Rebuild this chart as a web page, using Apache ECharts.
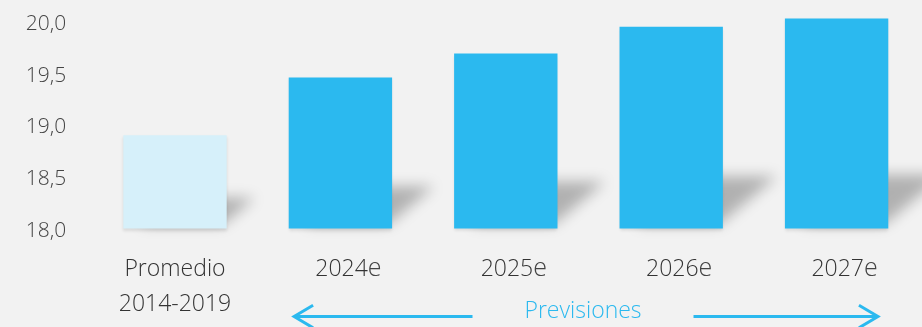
<!DOCTYPE html>
<html>
<head>
<meta charset="utf-8">
<script src="https://cdn.jsdelivr.net/npm/echarts@6/dist/echarts.min.js"></script>
<style>
  html, body { margin: 0; padding: 0; background: #f2f2f2; }
  #chart { width: 922px; height: 327px; }
</style>
</head>
<body>
<div id="chart"></div>
<script>
// Chart data
const categories = ['Promedio\n2014-2019', '2024e', '2025e', '2026e', '2027e'];
const values = [18.90, 19.46, 19.69, 19.95, 20.03];
const yTicks = [18, 18.5, 19, 19.5, 20];
const yTickLabels = ['18,0', '18,5', '19,0', '19,5', '20,0'];
const forecastLabel = 'Previsiones';

// Styling
const Y_MIN = 18, Y_MAX = 20.1;
const BLUE = '#2bb9ef';
const PALE = '#d6f0fa';
const FONT = '"Open Sans", "Noto Sans", sans-serif';
const WEIGHT = 300;
const BAR_RATIO = 0.625;

const chart = echarts.init(document.getElementById('chart'), null, { renderer: 'canvas' });

// Soft floor shadow cast up and to the right of each bar.
// The solid shape sits off-canvas; only its blurred shadow lands beside the bar.
function floorShadow(params, api) {
  const idx = api.value(0);
  const top = api.coord([idx, api.value(1)]);
  const base = api.coord([idx, Y_MIN]);
  const half = api.size([1, 0])[0] * BAR_RATIO / 2;
  const h = base[1] - top[1];
  const dy = h * 0.2 + 8;
  const dx = dy * 1.2;
  const xL = base[0] - half + 16, xR = base[0] + half - 4, yB = base[1] - 4;
  const OFF = 3000;
  return {
    type: 'polygon',
    shape: {
      points: [
        [xL - OFF, yB], [xR - OFF, yB],
        [xR + dx - OFF, yB - dy], [xL + dx - OFF, yB - dy]
      ]
    },
    style: {
      fill: '#000',
      shadowColor: 'rgba(0,0,0,0.27)',
      shadowBlur: 14,
      shadowOffsetX: OFF
    }
  };
}

function categoryLabel(value) {
  if (value.indexOf('\n') >= 0) {
    return value.split('\n').map(s => '{p|' + s + '}').join('\n');
  }
  return '{y|' + value.slice(0, -1) + '}{e|' + value.slice(-1) + '}';
}

chart.setOption({
  backgroundColor: '#f2f2f2',
  animation: false,
  grid: { left: 92.3, right: 2.7, top: 11.15, bottom: 98.5 },
  xAxis: {
    type: 'category',
    data: categories,
    axisLine: { show: false },
    axisTick: { show: false },
    axisLabel: {
      interval: 0,
      margin: 23,
      formatter: categoryLabel,
      rich: {
        p: { fontSize: 23, lineHeight: 35, color: '#333', fontFamily: FONT, fontWeight: WEIGHT },
        y: { fontSize: 23, lineHeight: 35, color: '#333', fontFamily: FONT, fontWeight: WEIGHT, padding: [0, 0, 0, 16] },
        e: { fontSize: 25, lineHeight: 35, color: '#444', fontFamily: FONT, fontWeight: WEIGHT }
      }
    }
  },
  yAxis: {
    type: 'value',
    min: Y_MIN,
    max: Y_MAX,
    interval: 0.5,
    startValue: Y_MIN,
    splitLine: { show: false },
    axisLine: { show: false },
    axisTick: { show: false },
    axisLabel: {
      margin: 26,
      formatter: v => {
        const i = yTicks.indexOf(Math.round(v * 10) / 10);
        return i >= 0 ? '{v|' + yTickLabels[i] + '}' : '';
      },
      rich: {
        v: { fontSize: 21, lineHeight: 28, color: '#444', fontFamily: FONT, fontWeight: WEIGHT, padding: [5, 0, 0, 0] }
      }
    }
  },
  series: [
    {
      type: 'custom',
      clip: false,
      z: 1,
      silent: true,
      renderItem: floorShadow,
      encode: { x: 0, y: 1 },
      data: values.map((v, i) => [i, v])
    },
    {
      type: 'bar',
      z: 3,
      clip: false,
      barWidth: (BAR_RATIO * 100) + '%',
      data: values,
      itemStyle: {
        color: p => (p.dataIndex === 0 ? PALE : BLUE),
        shadowColor: 'rgba(0,0,0,0.10)',
        shadowBlur: 3,
        shadowOffsetY: 2
      }
    }
  ]
});

// Forecast bracket under the projected years
function drawForecastArrows() {
  const c1 = chart.convertToPixel({ xAxisIndex: 0 }, 1);
  const c4 = chart.convertToPixel({ xAxisIndex: 0 }, 4);
  const band = chart.convertToPixel({ xAxisIndex: 0 }, 2) - c1;
  const base = chart.convertToPixel({ yAxisIndex: 0 }, Y_MIN);
  const yA = base + 88;
  const leftTip = c1 - band * 0.28;
  const rightTip = c4 + band * 0.25;
  const mid = (leftTip + rightTip) / 2 - 3;
  const gap = 110.5;
  const head = 19, spread = 11.3;
  const stroke = { stroke: BLUE, lineWidth: 3, fill: null };
  chart.setOption({
    graphic: [
      { type: 'line', shape: { x1: leftTip + 1, y1: yA, x2: mid - gap, y2: yA }, style: stroke, silent: true },
      { type: 'polyline', shape: { points: [[leftTip + head, yA - spread], [leftTip, yA], [leftTip + head, yA + spread]] }, style: stroke, silent: true },
      { type: 'line', shape: { x1: mid + gap, y1: yA, x2: rightTip - 1, y2: yA }, style: stroke, silent: true },
      { type: 'polyline', shape: { points: [[rightTip - head, yA - spread], [rightTip, yA], [rightTip - head, yA + spread]] }, style: stroke, silent: true },
      {
        type: 'text', x: mid, y: yA - 5, silent: true,
        style: {
          text: forecastLabel, fill: BLUE,
          font: WEIGHT + ' 23px ' + FONT,
          align: 'center', verticalAlign: 'middle',
          textAlign: 'center', textVerticalAlign: 'middle'
        }
      }
    ]
  });
}
drawForecastArrows();
</script>
</body>
</html>
